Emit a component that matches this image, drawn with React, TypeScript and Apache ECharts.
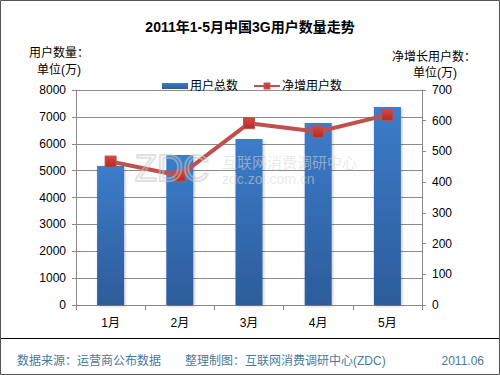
import React, { useEffect, useRef } from "react";
import * as echarts from "echarts";

const categories = ["1月", "2月", "3月", "4月", "5月"];
const totalUsers = [5170, 5580, 6180, 6770, 7370];
const netAdded = [467, 421, 592, 564, 619];
const leftTicks = { min: 0, max: 8000, interval: 1000 };
const rightTicks = { min: 0, max: 700, interval: 100 };

export default function App() {
  const ref = useRef<HTMLDivElement>(null);
  useEffect(() => {
    if (!ref.current) return;
    const chart = echarts.init(ref.current, null, { renderer: "svg" });
    const font = "Arial, 'Liberation Sans', 'Noto Sans CJK SC', sans-serif";
    chart.setOption({
      animation: false,
      backgroundColor: "#ffffff",
      textStyle: { fontFamily: font },
      title: {
        text: "2011年1-5月中国3G用户数量走势",
        left: "center",
        top: 15,
        textStyle: { fontSize: 14, fontWeight: "bold", color: "#000", fontFamily: font },
      },
      legend: {
        left: 157,
        top: 75,
        itemWidth: 26,
        itemHeight: 6,
        itemGap: 15,
        textStyle: { fontSize: 12, color: "#000", fontFamily: font, padding: [0, 0, 0, -3] },
        data: [
          { name: "用户总数", icon: "rect" },
          { name: "净增用户数" },
        ],
      },
      grid: { left: 76, right: 78, top: 90, bottom: 70 },
      xAxis: {
        type: "category",
        data: categories,
        axisLine: { show: true, lineStyle: { color: "#888", width: 1 } },
        axisTick: { show: true, length: 5, lineStyle: { color: "#888" } },
        axisLabel: { color: "#000", fontSize: 12, margin: 12 },
      },
      yAxis: [
        {
          type: "value",
          min: leftTicks.min,
          max: leftTicks.max,
          interval: leftTicks.interval,
          axisLine: { show: true, lineStyle: { color: "#888" } },
          axisTick: { show: true, length: 4, lineStyle: { color: "#888" } },
          axisLabel: { color: "#000", fontSize: 12, margin: 10, formatter: (v: number) => String(v) },
          splitLine: { show: true, lineStyle: { color: "#8c8c8c", width: 1 } },
        },
        {
          type: "value",
          min: rightTicks.min,
          max: rightTicks.max,
          interval: rightTicks.interval,
          position: "right",
          axisLine: { show: true, lineStyle: { color: "#888" } },
          axisTick: { show: true, length: 4, lineStyle: { color: "#888" } },
          axisLabel: { color: "#000", fontSize: 12, margin: 10, formatter: (v: number) => String(v) },
          splitLine: { show: false },
        },
      ],
      series: [
        {
          name: "用户总数",
          type: "bar",
          data: totalUsers,
          barWidth: 27,
          yAxisIndex: 0,
          itemStyle: {
            color: new echarts.graphic.LinearGradient(0, 0, 0, 1, [
              { offset: 0, color: "#3c7cca" },
              { offset: 1, color: "#2d5c9a" },
            ]),
            shadowColor: "rgba(0,0,0,0.25)",
            shadowBlur: 3,
            shadowOffsetX: 1,
            shadowOffsetY: 1,
          },
        },
        {
          name: "净增用户数",
          type: "line",
          data: netAdded,
          yAxisIndex: 1,
          symbol: "rect",
          symbolSize: 11,
          lineStyle: { color: "#c0504d", width: 4 },
          itemStyle: {
            color: new echarts.graphic.LinearGradient(0, 0, 0, 1, [
              { offset: 0, color: "#d8463f" },
              { offset: 1, color: "#a82e2a" },
            ]),
            borderColor: "#c0504d",
            borderWidth: 1,
          },
        },
      ],
      graphic: [
        {
          type: "rect",
          z: 100,
          shape: { x: 0.5, y: 0.5, width: 499, height: 374 },
          style: { fill: "none", stroke: "#555", lineWidth: 1 },
        },
        {
          type: "line",
          shape: { x1: 0, y1: 338.5, x2: 500, y2: 338.5 },
          style: { stroke: "#000", lineWidth: 1 },
        },
        { type: "text", x: 59, y: 53, style: { text: "用户数量：", fill: "#000", align: "center", verticalAlign: "middle", font: "12px " + font } },
        { type: "text", x: 59, y: 70, style: { text: "单位(万)", fill: "#000", align: "center", verticalAlign: "middle", font: "12px " + font } },
        { type: "text", x: 434, y: 57, style: { text: "净增长用户数：", fill: "#000", align: "center", verticalAlign: "middle", font: "12px " + font } },
        { type: "text", x: 435, y: 73, style: { text: "单位(万)", fill: "#000", align: "center", verticalAlign: "middle", font: "12px " + font } },
        { type: "text", x: 17, y: 361, style: { text: "数据来源：运营商公布数据", fill: "#4a7a9a", verticalAlign: "middle", font: "12px " + font } },
        { type: "text", x: 185, y: 361, style: { text: "整理制图：互联网消费调研中心(ZDC)", fill: "#4a7a9a", verticalAlign: "middle", font: "12px " + font } },
        { type: "text", x: 484, y: 361, style: { text: "2011.06", fill: "#4a7a9a", align: "right", verticalAlign: "middle", font: "12px " + font } },
        { type: "text", x: 135, y: 168, z: 50, style: { text: "ZDC", fill: "rgba(255,255,255,0)", stroke: "rgba(200,200,200,0.55)", lineWidth: 2, verticalAlign: "middle", font: "36px " + font } },
        { type: "text", x: 222, y: 162, z: 50, style: { text: "互联网消费调研中心", fill: "rgba(215,215,215,0.55)", verticalAlign: "middle", font: "15px " + font } },
        { type: "text", x: 222, y: 179, z: 50, style: { text: "zdc.zol.com.cn", fill: "rgba(215,215,215,0.55)", verticalAlign: "middle", font: "14px " + font } },
      ],
    });
    return () => chart.dispose();
  }, []);
  return (
    <div
      ref={ref}
      style={{ position: "absolute", left: 0, top: 0, width: 500, height: 375 }}
    />
  );
}
